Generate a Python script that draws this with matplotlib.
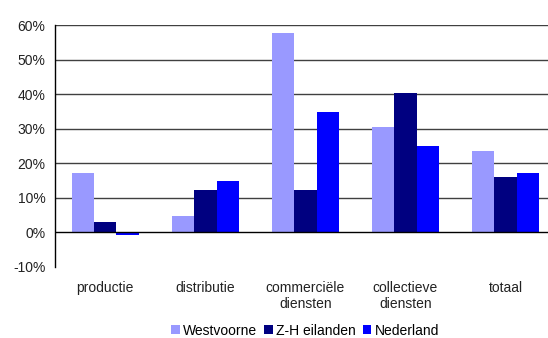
import numpy as np
import matplotlib
matplotlib.use("Agg")
import matplotlib.pyplot as plt
from matplotlib.ticker import PercentFormatter

# Groei per sector (fractie)
sectoren = ["productie", "distributie", "commerciële\ndiensten", "collectieve\ndiensten", "totaal"]
westvoorne = [0.172, 0.047, 0.578, 0.305, 0.235]
zh_eilanden = [0.029, 0.122, 0.122, 0.404, 0.160]
nederland = [-0.008, 0.148, 0.349, 0.250, 0.172]

reeksen = ["Westvoorne", "Z-H eilanden", "Nederland"]
kleuren = ["#9999FF", "#000080", "#0000FF"]

plt.rcParams["font.family"] = ["Liberation Sans", "DejaVu Sans"]
plt.rcParams["axes.unicode_minus"] = False

fig = plt.figure(figsize=(5.48, 3.38), dpi=100)
ax = fig.add_axes([0.1009, 0.2109, 0.8991, 0.7142])

x = np.arange(len(sectoren))
breedte = 0.223
for i, (waarden, naam, kleur) in enumerate(zip([westvoorne, zh_eilanden, nederland], reeksen, kleuren)):
    ax.bar(x + (i - 1) * breedte, waarden, breedte, color=kleur, label=naam, zorder=3)

ax.set_ylim(-0.1, 0.6)
ax.set_xlim(-0.5, 4.425)
ax.set_yticks(np.arange(-0.1, 0.61, 0.1))
ax.yaxis.set_major_formatter(PercentFormatter(1.0, decimals=0))
ax.set_xticks(x)
ax.set_xticklabels(sectoren, linespacing=1.2)

# horizontale hulplijnen, behalve bij -10%
for y in np.arange(0.1, 0.61, 0.1):
    ax.axhline(y, color="#404040", lw=1.0, zorder=1)
ax.axhline(0, color="black", lw=1.0, zorder=4)

for kant in ["top", "right", "bottom"]:
    ax.spines[kant].set_visible(False)
ax.spines["left"].set_color("black")
ax.spines["left"].set_linewidth(1.0)

ax.tick_params(axis="y", length=0, pad=7, labelsize=10, colors="#222222")
ax.tick_params(axis="x", length=0, pad=10.5, labelsize=10, colors="#222222")

ax.legend(loc="center", bbox_to_anchor=(0.557, 0.022), bbox_transform=fig.transFigure,
          ncol=3, frameon=False, fontsize=10, handlelength=0.6, handleheight=0.6,
          handletextpad=0.25, columnspacing=0.5, borderpad=0.2)

fig.savefig("out.png", dpi=100)
